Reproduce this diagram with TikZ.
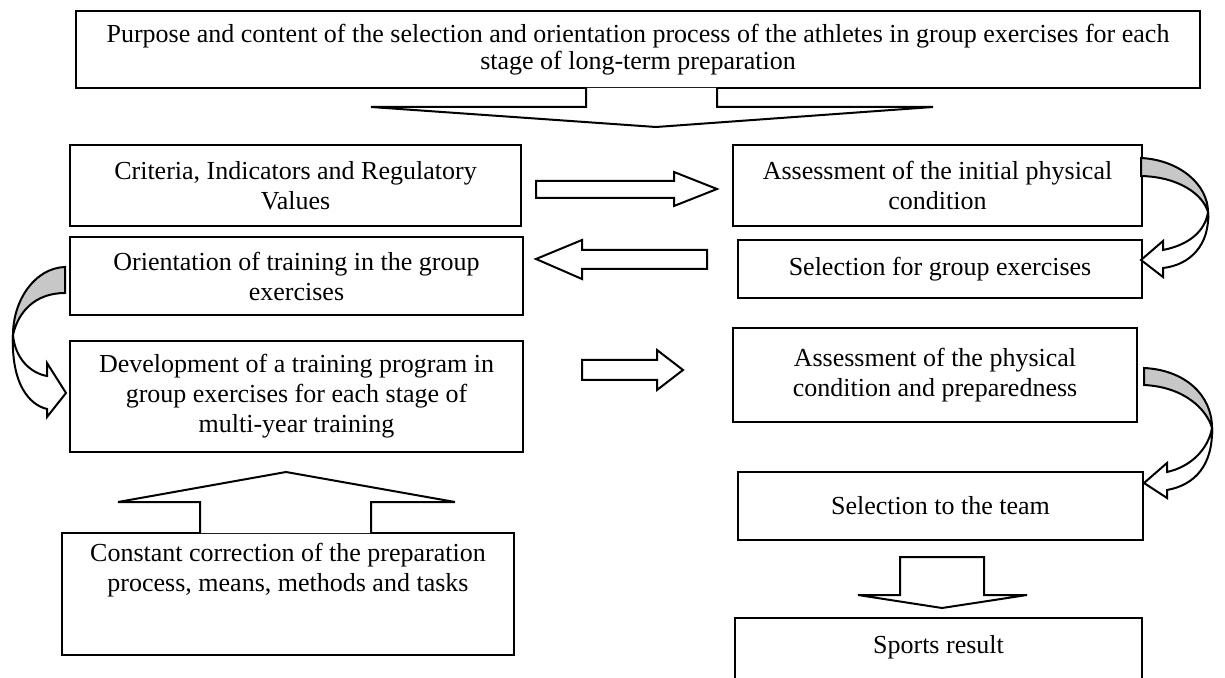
\documentclass[tikz,border=0pt]{standalone}
\usepackage{fontspec}
\setmainfont{Liberation Serif}
\usepackage{xcolor}
\usepackage{tikz}

\tikzset{
  box/.style={draw, line width=1pt, rectangle, align=center, inner sep=0pt},
  blockarrow/.style={draw, line width=1pt, fill=white, line join=miter},
  twist/.style={draw, line width=1pt, fill=black!22},
}

\begin{document}
\begin{tikzpicture}[x=0.5pt, y=-0.5pt, every node/.style={font=\fontsize{13}{15}\selectfont}]
        \useasboundingbox (0,0) rectangle (1225,678);

        %% Top box
        \node [box, minimum width=562pt, minimum height=38.5pt, font=\fontsize{13}{13.5}\selectfont] (aim) at (638,49.5)
          {Purpose and content of the selection and orientation process of the athletes in group exercises for each\\stage of long-term preparation};

        %% Left column
        \node [box, minimum width=225.5pt, minimum height=40.5pt] (crit) at (295.5,185.5) {Criteria, Indicators and Regulatory\\Values};
        \node [box, minimum width=226.5pt, minimum height=39pt] (orient) at (296.5,276) {Orientation of training in the group\\exercises};
        \node [box, minimum width=226.5pt, minimum height=55.5pt] (devel) at (296.5,396.5) {Development of a training program in\\group exercises for each stage of\\multi-year training};
        \node [box, minimum width=226pt, minimum height=61pt,
          label={[anchor=north, yshift=-2pt, align=center]north:Constant correction of the preparation\\process, means, methods and tasks}] (corr) at (288,594) {};

        %% Right column
        \node [box, minimum width=204.5pt, minimum height=40.5pt] (initial) at (937.5,185.5) {Assessment of the initial physical\\condition};
        \node [box, minimum width=202pt, minimum height=29pt] (selgrp) at (940,269) {Selection for group exercises};
        \node [box, minimum width=202pt, minimum height=47pt] (physc) at (935,375) {Assessment of the physical\\condition and preparedness};
        \node [box, minimum width=202.5pt, minimum height=34pt] (team) at (940.5,506) {Selection to the team};
        \node [box, minimum width=203.5pt, minimum height=41pt,
          label={[anchor=north, yshift=-5.5pt]north:Sports result}] (result) at (938.5,659) {};

        %% Block arrows
        \draw [blockarrow] (586,88) -- (586,107) -- (371,107) -- (656,127) -- (933,107) -- (717,107) -- (717,88);
        \draw [blockarrow] (536,181) -- (674,181) -- (674,172) -- (717,189) -- (674,206) -- (674,198) -- (536,198) -- cycle;
        \draw [blockarrow] (707,250) -- (582,250) -- (582,240) -- (536,259) -- (582,279) -- (582,269) -- (707,269) -- cycle;
        \draw [blockarrow] (582,360) -- (657,360) -- (657,350) -- (683,370) -- (657,390) -- (657,380) -- (582,380) -- cycle;
        \draw [blockarrow] (200,533) -- (200,502) -- (118,502) -- (286,472) -- (455,502) -- (371,502) -- (371,533);
        \draw [blockarrow] (900,595) -- (900,557) -- (984,557) -- (984,595) -- (1027,595) -- (942,608) -- (858,595) -- cycle;

        %% Curved arrows
        \draw [twist] (1141,158) .. controls (1180,160) and (1208,185) .. (1208,212)
          .. controls (1203,195) and (1180,177) .. (1141,176) -- cycle;
        \draw [blockarrow] (1208,212) .. controls (1210,245) and (1190,265) .. (1163,268) -- (1163,277) -- (1141,260)
          -- (1163,241) -- (1163,250) .. controls (1188,245) and (1205,232) .. (1208,212);

        \draw [twist] (65,267) .. controls (35,268) and (13,300) .. (13,335)
          .. controls (18,312) and (35,293) .. (65,293) -- cycle;
        \draw [blockarrow] (13,335) .. controls (11,385) and (30,405) .. (47,409) -- (47,417) -- (66,393)
          -- (47,363) -- (47,376) .. controls (30,373) and (15,358) .. (13,335);

        \draw [twist] (1144,368) .. controls (1185,370) and (1212,395) .. (1212,428)
          .. controls (1207,410) and (1185,387) .. (1144,385) -- cycle;
        \draw [blockarrow] (1212,428) .. controls (1213,465) and (1195,485) .. (1167,490) -- (1167,498) -- (1144,483)
          -- (1167,463) -- (1167,472) .. controls (1190,467) and (1208,450) .. (1212,428);
    \end{tikzpicture}
\end{document}
